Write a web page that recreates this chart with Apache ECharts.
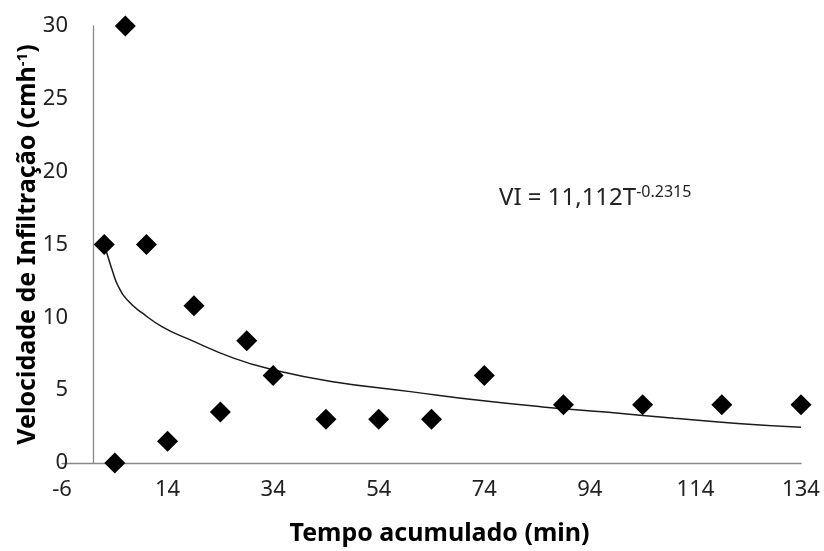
<!DOCTYPE html>
<html>
<head>
<meta charset="utf-8">
<script src="https://cdn.jsdelivr.net/npm/echarts@6/dist/echarts.min.js"></script>
<style>
html,body{margin:0;padding:0;background:#fff;}
#chart{width:824px;height:551px;}
</style>
</head>
<body>
<div id="chart"></div>
<script>
// Observed points: accumulated time (min) and infiltration velocity (cm/h)
const timeMin = [2, 4, 6, 10, 14, 19, 24, 29, 34, 44, 54, 64, 74, 89, 104, 119, 134];
const velocity = [15, 0, 30, 15, 1.5, 10.8, 3.5, 8.4, 6, 3, 3, 3, 6, 4, 4, 4, 4];
// Trend curve
const trendX = [2, 2.5, 3.5, 4.7, 6.6, 9.2, 13, 18, 26.5, 34, 45, 60, 73, 85, 97, 110, 122, 134];
const trendY = [14.9, 14.4, 13.25, 12.1, 11.1, 10.3, 9.35, 8.5, 7.2, 6.4, 5.6, 4.9, 4.3, 3.85, 3.5, 3.07, 2.72, 2.45];
// Axis ticks
const xTicks = [-6, 14, 34, 54, 74, 94, 114, 134];
const yTicks = [0, 5, 10, 15, 20, 25, 30];
const equationMain = 'VI = 11,112T';
const equationExp = '-0.2315';

const font = 'Noto Sans';
const chart = echarts.init(document.getElementById('chart'));
chart.setOption({
  backgroundColor: '#ffffff',
  animation: false,
  grid: { left: 62, right: 23, top: 26, bottom: 88, containLabel: false, outerBoundsMode: 'none' },
  xAxis: {
    type: 'value',
    min: xTicks[0],
    max: xTicks[xTicks.length - 1],
    interval: 20,
    splitLine: { show: false },
    axisTick: { show: false },
    axisLine: { onZero: true, lineStyle: { color: '#888888', width: 1.3 } },
    axisLabel: { color: '#222', fontFamily: font, fontSize: 22, margin: 16 },
    name: 'Tempo acumulado (min)',
    nameLocation: 'middle',
    nameGap: 58,
    nameMoveOverlap: false,
    nameTextStyle: { color: '#000', fontFamily: font, fontSize: 25, fontWeight: 'bold', padding: [0, 0, 0, 16] }
  },
  yAxis: {
    type: 'value',
    min: yTicks[0],
    max: yTicks[yTicks.length - 1],
    interval: 5,
    splitLine: { show: false },
    axisTick: { show: false },
    axisLine: { show: true, onZero: true, lineStyle: { color: '#888888', width: 1.3 } },
    axisLabel: { color: '#222', fontFamily: font, fontSize: 22, margin: -14, padding: [0, 8, 0, 0] },
    name: '{t|Velocidade de Infiltração (cmh}{s|-1}{t|)}',
    nameLocation: 'middle',
    nameRotate: 90,
    nameGap: 22,
    nameMoveOverlap: false,
    nameTextStyle: {
      rich: {
        t: { color: '#000', fontFamily: font, fontSize: 25, fontWeight: 'bold' },
        s: { color: '#000', fontFamily: font, fontSize: 15, fontWeight: 'bold', verticalAlign: 'top', padding: [0, 0, 10, 0] }
      }
    }
  },
  graphic: [{
    type: 'text',
    left: 499,
    top: 184,
    style: {
      text: '{m|' + equationMain + '}{e|' + equationExp + '}',
      rich: {
        m: { fontFamily: font, fontSize: 24, fill: '#222' },
        e: { fontFamily: font, fontSize: 16, fill: '#222', verticalAlign: 'top', padding: [0, 0, 12, 0] }
      }
    }
  }],
  series: [
    {
      type: 'line',
      data: trendX.map((x, i) => [x, trendY[i]]),
      smooth: 0.5,
      showSymbol: false,
      symbol: 'none',
      lineStyle: { color: '#1a1a1a', width: 1.5 },
      z: 2
    },
    {
      type: 'scatter',
      data: timeMin.map((x, i) => [x, velocity[i]]),
      symbol: 'diamond',
      symbolSize: 21,
      itemStyle: { color: '#000000', opacity: 1 },
      z: 3
    }
  ]
});
</script>
</body>
</html>
